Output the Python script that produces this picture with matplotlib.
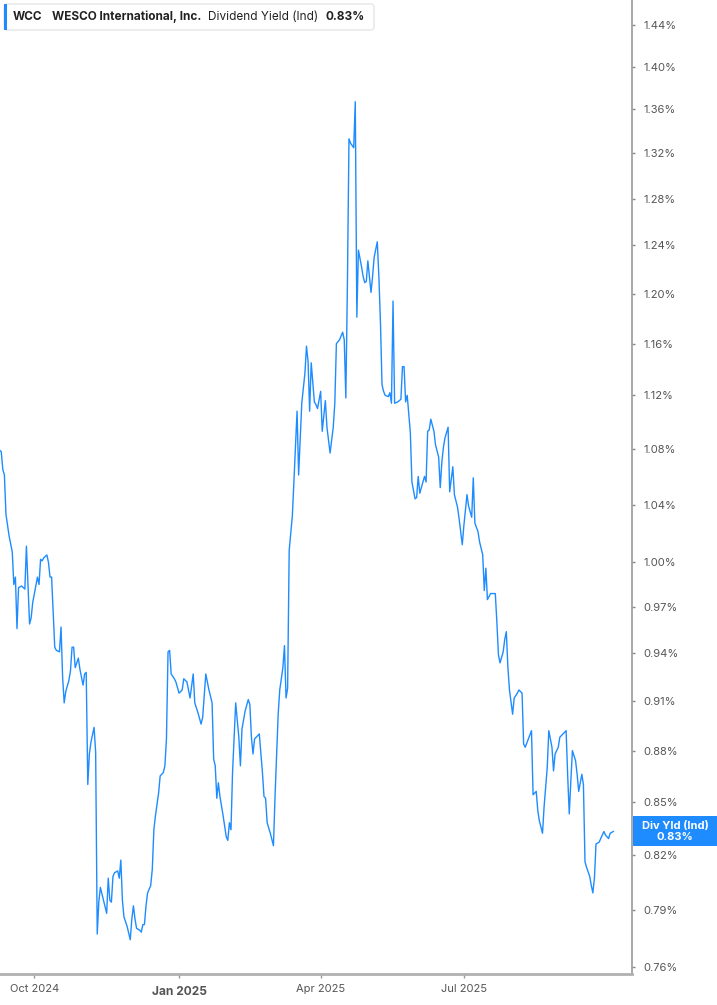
import pandas as pd
import matplotlib
matplotlib.use("Agg")
import matplotlib.pyplot as plt
import matplotlib.dates as mdates
from matplotlib.patches import FancyBboxPatch, Rectangle
from matplotlib.ticker import FixedLocator, NullLocator

# --- data (calendar day offset from start_date, yield in %) ---
start_date = "2024-09-09"
obs_day = [
    0, 1, 2, 3, 4, 6, 8, 9, 10, 11, 12, 14, 16, 17, 19, 20, 21, 24, 25, 26,
    27, 28, 30, 31, 32, 33, 35, 36, 38, 39, 40, 41, 42, 44, 45, 46, 47, 48, 50, 51,
    53, 54, 55, 56, 57, 58, 60, 61, 62, 63, 64, 66, 68, 69, 70, 71, 72, 73, 75, 76,
    77, 78, 79, 81, 83, 84, 85, 86, 87, 89, 90, 91, 92, 93, 94, 96, 97, 98, 99, 101,
    102, 104, 105, 106, 107, 108, 109, 111, 112, 114, 116, 117, 119, 121, 123, 124, 126, 128, 129, 131,
    133, 135, 136, 137, 138, 139, 140, 142, 144, 145, 146, 147, 148, 150, 152, 153, 154, 156, 158, 159,
    160, 161, 162, 163, 165, 167, 168, 169, 170, 172, 174, 175, 177, 178, 180, 181, 182, 183, 184, 186,
    187, 189, 190, 191, 192, 194, 195, 196, 197, 198, 200, 201, 202, 204, 205, 207, 208, 210, 212, 213,
    214, 216, 218, 219, 220, 221, 222, 223, 225, 226, 227, 228, 230, 231, 232, 233, 234, 236, 237, 238,
    240, 241, 242, 243, 244, 245, 247, 248, 249, 250, 251, 253, 255, 256, 257, 258, 259, 261, 262, 264,
    265, 266, 267, 269, 270, 271, 272, 273, 274, 276, 277, 279, 280, 281, 282, 283, 285, 286, 288, 289,
    291, 292, 294, 295, 297, 298, 300, 301, 302, 304, 305, 307, 308, 309, 310, 312, 314, 315, 316, 317,
    318, 320, 321, 322, 323, 324, 326, 327, 329, 330, 332, 333, 334, 336, 338, 339, 341, 342, 343, 345,
    346, 348, 349, 351, 352, 353, 355, 356, 358, 360, 361, 362, 363, 364, 366, 367, 368, 370, 371, 372,
    373, 375, 376, 377, 378, 379, 381, 382, 384, 385, 387, 388, 390,
]
div_yield = [
    1.079, 1.078, 1.065, 1.061, 1.033, 1.018, 1.007, 0.985, 0.990, 0.956, 0.983, 0.984, 0.982, 1.011, 0.959, 0.963, 0.973, 0.990, 0.985, 1.002,
    1.001, 1.003, 1.005, 1.000, 0.990, 0.990, 0.944, 0.942, 0.941, 0.957, 0.925, 0.909, 0.916, 0.923, 0.929, 0.944, 0.944, 0.931, 0.937, 0.930,
    0.920, 0.927, 0.928, 0.860, 0.878, 0.885, 0.894, 0.879, 0.777, 0.794, 0.802, 0.795, 0.788, 0.807, 0.795, 0.794, 0.808, 0.810, 0.811, 0.807,
    0.817, 0.795, 0.786, 0.781, 0.774, 0.785, 0.792, 0.785, 0.780, 0.779, 0.778, 0.782, 0.782, 0.792, 0.799, 0.803, 0.812, 0.834, 0.842, 0.855,
    0.865, 0.867, 0.871, 0.887, 0.941, 0.942, 0.927, 0.924, 0.922, 0.915, 0.917, 0.924, 0.922, 0.912, 0.927, 0.909, 0.903, 0.896, 0.900, 0.927,
    0.917, 0.909, 0.875, 0.871, 0.852, 0.861, 0.853, 0.842, 0.830, 0.828, 0.838, 0.834, 0.867, 0.909, 0.888, 0.871, 0.893, 0.904, 0.911, 0.908,
    0.888, 0.878, 0.887, 0.888, 0.890, 0.867, 0.853, 0.852, 0.838, 0.832, 0.825, 0.853, 0.902, 0.917, 0.931, 0.945, 0.912, 0.918, 1.008, 1.032,
    1.056, 1.108, 1.061, 1.087, 1.114, 1.137, 1.158, 1.146, 1.108, 1.145, 1.115, 1.113, 1.110, 1.123, 1.093, 1.116, 1.096, 1.077, 1.096, 1.114,
    1.160, 1.163, 1.169, 1.163, 1.118, 1.207, 1.333, 1.329, 1.325, 1.367, 1.181, 1.236, 1.222, 1.214, 1.209, 1.210, 1.227, 1.201, 1.214, 1.230,
    1.243, 1.214, 1.177, 1.128, 1.123, 1.120, 1.119, 1.122, 1.114, 1.194, 1.114, 1.115, 1.117, 1.142, 1.142, 1.115, 1.120, 1.092, 1.056, 1.044,
    1.045, 1.060, 1.048, 1.056, 1.060, 1.056, 1.093, 1.094, 1.102, 1.093, 1.083, 1.074, 1.052, 1.070, 1.081, 1.088, 1.096, 1.049, 1.067, 1.047,
    1.038, 1.030, 1.012, 1.025, 1.047, 1.039, 1.031, 1.059, 1.027, 1.021, 1.014, 1.005, 0.981, 0.996, 0.975, 0.979, 0.979, 0.979, 0.960, 0.939,
    0.934, 0.941, 0.949, 0.954, 0.931, 0.917, 0.902, 0.912, 0.915, 0.917, 0.915, 0.884, 0.882, 0.887, 0.892, 0.854, 0.856, 0.845, 0.839, 0.832,
    0.847, 0.870, 0.892, 0.882, 0.868, 0.878, 0.882, 0.888, 0.890, 0.892, 0.865, 0.843, 0.862, 0.880, 0.874, 0.866, 0.856, 0.866, 0.860, 0.816,
    0.813, 0.808, 0.803, 0.799, 0.807, 0.826, 0.827, 0.829, 0.833, 0.831, 0.829, 0.832, 0.833,
]
y_ticks = [0.76, 0.79, 0.82, 0.85, 0.88, 0.91, 0.94, 0.97, 1.00, 1.04,
           1.08, 1.12, 1.16, 1.20, 1.24, 1.28, 1.32, 1.36, 1.40, 1.44]
x_ticks = ["2024-10-01", "2025-01-01", "2025-04-01", "2025-07-01"]
x_labels = ["Oct 2024", "Jan 2025", "Apr 2025", "Jul 2025"]
symbol = "WCC"
company = "WESCO International, Inc."
metric = "Dividend Yield (Ind)"
metric_short = "Div Yld (Ind)"

BLUE = "#1e8cff"
GREY_TXT = "#555555"

plt.rcParams["font.family"] = ["Inter", "DejaVu Sans"]

dates = pd.to_datetime(start_date) + pd.to_timedelta(obs_day, unit="D")
last_value = div_yield[-1]

W, H = 717, 1005
fig = plt.figure(figsize=(W / 100, H / 100), dpi=100)
ax = fig.add_axes([0, 1 - 974 / H, 632 / W, 974 / H])

ax.plot(dates, div_yield, color=BLUE, lw=1.0)

ax.set_yscale("log")
ax.set_ylim(0.7562, 1.4647)
ax.set_xlim(pd.Timestamp("2024-09-09 05:00"), pd.Timestamp("2025-10-15 21:00"))

# y axis on the right
ax.yaxis.tick_right()
ax.yaxis.set_major_locator(FixedLocator(y_ticks))
ax.yaxis.set_minor_locator(NullLocator())
ax.set_yticklabels([f"{t:.2f}%" for t in y_ticks])
ax.tick_params(axis="y", length=2, width=1, color="#888888", pad=6,
               labelsize=8, labelcolor=GREY_TXT)

# x axis
tick_dates = pd.to_datetime(x_ticks)
ax.set_xticks(tick_dates)
ax.set_xticklabels([lab if i != 1 else "" for i, lab in enumerate(x_labels)])
ax.tick_params(axis="x", length=3, width=1, color="#999999", pad=4,
               labelsize=8, labelcolor=GREY_TXT)
ax.annotate(x_labels[1], xy=(mdates.date2num(tick_dates[1]), 0),
            xycoords=("data", "axes fraction"), xytext=(0, -8.5),
            textcoords="offset points", ha="center", va="top",
            fontsize=8.6, fontweight="bold", color=GREY_TXT)

for s in ("left", "top"):
    ax.spines[s].set_visible(False)
ax.spines["right"].set_color("#9a9a9a")
ax.spines["right"].set_linewidth(1.2)
ax.spines["bottom"].set_color("#b0b0b0")
ax.spines["bottom"].set_linewidth(2)

# header box
inch = fig.dpi_scale_trans
box = FancyBboxPatch((4 / 100, (H - 30) / 100), 370 / 100, 26 / 100,
                     boxstyle="round,pad=0,rounding_size=0.03",
                     transform=inch, facecolor="white", edgecolor="#e6e6e6",
                     lw=1, zorder=5)
fig.patches.append(box)
fig.patches.append(Rectangle((4 / 100, (H - 30) / 100), 3 / 100, 26 / 100,
                             transform=inch, facecolor=BLUE, edgecolor="none", zorder=6))
hy = 1 - 17 / H
fig.text(13 / W, hy, symbol, fontsize=8.5, fontweight="bold", color="#222222", va="center", zorder=7)
fig.text(52 / W, hy, company, fontsize=8.5, fontweight="bold", color="#222222", va="center", zorder=7)
fig.text(208 / W, hy, metric, fontsize=8.5, color="#222222", va="center", zorder=7)
fig.text(325 / W, hy, f"{last_value:.2f}%", fontsize=8.5, fontweight="bold", color="#222222",
         va="center", zorder=7)

# last value flag on the right axis
y_disp = ax.transData.transform((mdates.date2num(dates[-1]), last_value))[1]
y_in = y_disp / fig.dpi
fig.patches.append(Rectangle((633 / 100, y_in - 0.15), (W - 633) / 100, 0.30,
                             transform=inch, facecolor=BLUE, edgecolor="none", zorder=6))
fig.text(675 / W, (y_in + 0.055) / (H / 100), metric_short, fontsize=8, fontweight="bold",
         color="white", ha="center", va="center", zorder=7)
fig.text(675 / W, (y_in - 0.055) / (H / 100), f"{last_value:.2f}%", fontsize=8, fontweight="bold",
         color="white", ha="center", va="center", zorder=7)

fig.savefig("out.png", dpi=100)
